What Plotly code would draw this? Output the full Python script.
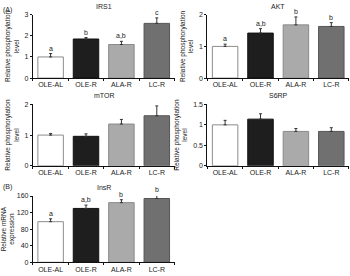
import plotly.graph_objects as go

categories = ["OLE-AL", "OLE-R", "ALA-R", "LC-R"]

irs1 = [1.0, 1.85, 1.59, 2.59]
irs1_err = [0.16, 0.07, 0.15, 0.26]
irs1_letters = ["a", "b", "a,b", "c"]

akt = [1.0, 1.42, 1.68, 1.63]
akt_err = [0.07, 0.14, 0.25, 0.12]
akt_letters = ["a", "a,b", "b", "b"]

mtor = [1.0, 0.96, 1.36, 1.63]
mtor_err = [0.05, 0.08, 0.15, 0.32]

s6rp = [1.0, 1.14, 0.84, 0.84]
s6rp_err = [0.11, 0.13, 0.07, 0.09]

insr = [98, 130, 144, 154]
insr_err = [7, 8, 7, 8]
insr_letters = ["a", "a,b", "b", "b"]

fills = ["#ffffff", "#1e1e1e", "#aaaaaa", "#707070"]
lines = ["#8c8c8c", "#111111", "#8a8a8a", "#555555"]

W, H = 350, 276

def dx(a, b):
    return [a / W, b / W]

def dy(top, bottom):
    return [1 - bottom / H, 1 - top / H]

panels = [
    dict(name="IRS1", vals=irs1, err=irs1_err, letters=irs1_letters,
         x=dx(32, 174), y=dy(11, 76), rng=[0, 3], dtick=1,
         ytitle="Relative phosphorylation<br>level"),
    dict(name="AKT", vals=akt, err=akt_err, letters=akt_letters,
         x=dx(207, 349), y=dy(11, 76), rng=[0, 2], dtick=1,
         ytitle="Relative phosphorylation<br>level"),
    dict(name="mTOR", vals=mtor, err=mtor_err, letters=None,
         x=dx(32, 174), y=dy(103, 166), rng=[0, 2], dtick=1,
         ytitle="Relative phosphorylation<br>level"),
    dict(name="S6RP", vals=s6rp, err=s6rp_err, letters=None,
         x=dx(207, 349), y=dy(103, 166), rng=[0, 1.5], dtick=0.5,
         ytitle="Relative phosphorylation<br>level"),
    dict(name="InsR", vals=insr, err=insr_err, letters=insr_letters,
         x=dx(32, 174), y=dy(197, 265), rng=[0, 160], dtick=40,
         ytitle="Relative mRNA<br>expression"),
]

FONT = "Liberation Sans, Arial, sans-serif"
TXT = "#222222"
fig = go.Figure()
layout = dict(width=W, height=H, margin=dict(l=0, r=0, t=0, b=0),
              paper_bgcolor="white", plot_bgcolor="white", showlegend=False,
              hovermode=False,
              font=dict(family=FONT, size=7, color=TXT), bargap=0.28)
annotations = []

for i, p in enumerate(panels):
    n = "" if i == 0 else str(i + 1)
    xa, ya = "x" + n, "y" + n
    fig.add_trace(go.Bar(
        x=categories, y=p["vals"], xaxis=xa, yaxis=ya, hoverinfo="skip",
        marker=dict(color=fills, line=dict(color=lines, width=1)),
        error_y=dict(type="data", array=p["err"], arrayminus=[0] * 4,
                     symmetric=False, color="#333", thickness=1, width=1.5),
    ))
    layout["xaxis" + n] = dict(domain=p["x"], anchor=ya, type="category",
                               showline=True, linecolor="#111", linewidth=1,
                               ticks="outside", tickson="boundaries", ticklen=2,
                               tickcolor="#111", showgrid=False, zeroline=False,
                               tickfont=dict(size=7, color=TXT), fixedrange=True)
    layout["yaxis" + n] = dict(domain=p["y"], anchor=xa, range=p["rng"],
                               dtick=p["dtick"], showline=True, linecolor="#111",
                               linewidth=1, ticks="outside", ticklen=2,
                               tickcolor="#111", showgrid=False, zeroline=False,
                               tickfont=dict(size=7, color=TXT), fixedrange=True,
                               title=dict(text=p["ytitle"],
                                          font=dict(size=6.5, color=TXT),
                                          standoff=4))
    annotations.append(dict(text=p["name"], xref="paper", yref="paper",
                            x=(p["x"][0] + p["x"][1]) / 2, y=p["y"][1] + 3 / H,
                            xanchor="center", yanchor="bottom", showarrow=False,
                            font=dict(size=7, color=TXT)))
    if p["letters"]:
        for c, v, e, t in zip(categories, p["vals"], p["err"], p["letters"]):
            frac = (v + e - p["rng"][0]) / (p["rng"][1] - p["rng"][0])
            annotations.append(dict(text=t, x=c, y=frac, xref=xa,
                                    yref=ya + " domain",
                                    yanchor="bottom", yshift=0, showarrow=False,
                                    font=dict(size=7, color=TXT)))

annotations.append(dict(text="(A)", xref="paper", yref="paper", x=0, y=1,
                        xanchor="left", yanchor="top", showarrow=False,
                        font=dict(size=7, color=TXT)))
annotations.append(dict(text="(B)", xref="paper", yref="paper", x=0,
                        y=1 - 182 / H, xanchor="left", yanchor="top",
                        showarrow=False, font=dict(size=7, color=TXT)))
layout["annotations"] = annotations
fig.update_layout(**layout)
fig.write_html("out.html", config={"displayModeBar": False, "staticPlot": True},
               post_script="document.body.style.margin='0';document.body.style.overflow='hidden';")
